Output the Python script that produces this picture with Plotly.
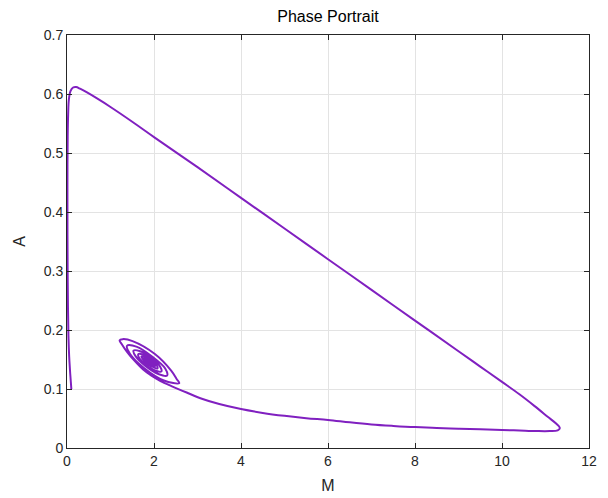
import plotly.graph_objects as go

# Trajectory in the (M, A) phase plane
M_vals = [
    0.10, 0.075, 0.05, 0.033, 0.022, 0.015, 0.011, 0.010, 0.011, 0.016, 0.026, 0.042, 0.08,
    0.14, 0.21, 0.30, 0.45, 0.70, 1.00, 1.50, 2.00, 3.00, 4.00, 5.00, 6.00, 7.00, 8.00,
    9.00, 9.50, 10.00, 10.40, 10.75, 11.05, 11.25, 11.33, 11.28, 11.10, 10.80, 10.40,
    10.00, 9.50, 9.00, 8.50, 8.00, 7.50, 7.00, 6.50, 6.00, 5.50, 5.00, 4.50, 4.00, 3.50,
    3.10, 2.75,
    # spiral
    2.40, 2.15, 1.95, 1.75, 1.55, 1.38, 1.26, 1.21,
    1.28, 1.507, 2.02, 2.395, 2.52, 2.58,
    2.227, 1.77, 1.45, 1.38,
    1.61, 1.965, 2.2575, 2.30,
    2.114, 1.81, 1.576, 1.53,
    1.684, 1.948, 2.142, 2.17,
    2.038, 1.825, 1.66, 1.64,
    1.75, 1.923, 2.059, 2.08,
    2.00, 1.85, 1.74, 1.71,
    1.79, 1.90, 2.00, 2.02,
    1.96, 1.86, 1.79, 1.77,
    1.82, 1.90, 1.96, 1.97,
    1.865, 1.81, 1.89, 1.94, 1.87, 1.83, 1.885, 1.915, 1.88,
]
A_vals = [
    0.100, 0.125, 0.155, 0.190, 0.240, 0.300, 0.360, 0.420, 0.480, 0.530, 0.565, 0.590, 0.605,
    0.611, 0.612, 0.609, 0.603, 0.592, 0.578, 0.553, 0.527, 0.476, 0.424, 0.372, 0.320, 0.268, 0.216,
    0.164, 0.138, 0.112, 0.091, 0.071, 0.053, 0.041, 0.034, 0.0300, 0.0287, 0.0287, 0.0296,
    0.0305, 0.0316, 0.0328, 0.0340, 0.0354, 0.0375, 0.0400, 0.0435, 0.0475, 0.0505, 0.0545, 0.0595, 0.0660, 0.0745,
    0.0835, 0.0940,
    # spiral
    0.105, 0.1135, 0.122, 0.133, 0.148, 0.163, 0.176, 0.1825,
    0.1845, 0.1811, 0.1592, 0.1311, 0.117, 0.110,
    0.1144, 0.1356, 0.1593, 0.1733,
    0.1713, 0.1545, 0.1348, 0.1228,
    0.1250, 0.1388, 0.1557, 0.1652,
    0.1639, 0.1523, 0.1378, 0.1298,
    0.1310, 0.1407, 0.1526, 0.1591,
    0.1583, 0.1505, 0.1407, 0.1349,
    0.1366, 0.1433, 0.1511, 0.1551,
    0.1539, 0.1483, 0.1418, 0.1384,
    0.1396, 0.1442, 0.1494, 0.1521,
    0.1512, 0.1475, 0.1432, 0.1409,
    0.1445, 0.150, 0.147, 0.1427, 0.1448, 0.1485, 0.1468, 0.1440, 0.146,
]

x_ticks = [0, 2, 4, 6, 8, 10, 12]
y_ticks = [0, 0.1, 0.2, 0.3, 0.4, 0.5, 0.6, 0.7]
y_tick_text = ["0", "0.1", "0.2", "0.3", "0.4", "0.5", "0.6", "0.7"]

FONT = "Liberation Sans, Arial, Helvetica, sans-serif"
AXC = "#262626"

fig = go.Figure()
fig.add_trace(go.Scatter(
    x=M_vals, y=A_vals, mode="lines",
    line=dict(color="#8020C0", width=2, shape="spline", smoothing=1.0),
    showlegend=False, hoverinfo="skip",
))

axis_common = dict(
    showline=True, linecolor=AXC, linewidth=1, mirror="ticks",
    ticks="inside", ticklen=5, tickcolor=AXC, tickwidth=1,
    showgrid=True, gridcolor="#e3e3e3", gridwidth=1,
    zeroline=False, automargin=False,
    tickfont=dict(family=FONT, size=14, color=AXC),
)

fig.update_layout(
    width=608, height=498,
    margin=dict(l=67, r=19, t=35, b=50),
    paper_bgcolor="white", plot_bgcolor="white",
    title=dict(text="Phase Portrait", x=(67 + 589) / 2 / 608, xanchor="center",
               y=1 - 16 / 498, yanchor="middle", automargin=False,
               font=dict(family=FONT, size=16, color="black")),
    xaxis=dict(range=[0, 12], tickvals=x_ticks, ticktext=[str(v) for v in x_ticks],
               title=dict(text="M", font=dict(family=FONT, size=16, color=AXC), standoff=12),
               **axis_common),
    yaxis=dict(range=[0, 0.7], tickvals=y_ticks, ticktext=y_tick_text,
               title=dict(text="A", font=dict(family=FONT, size=16, color=AXC), standoff=14),
               **axis_common),
)

fig.write_html(
    "out.html",
    config={"displayModeBar": False},
    post_script="document.body.style.margin='0';document.body.style.overflow='hidden';",
)
